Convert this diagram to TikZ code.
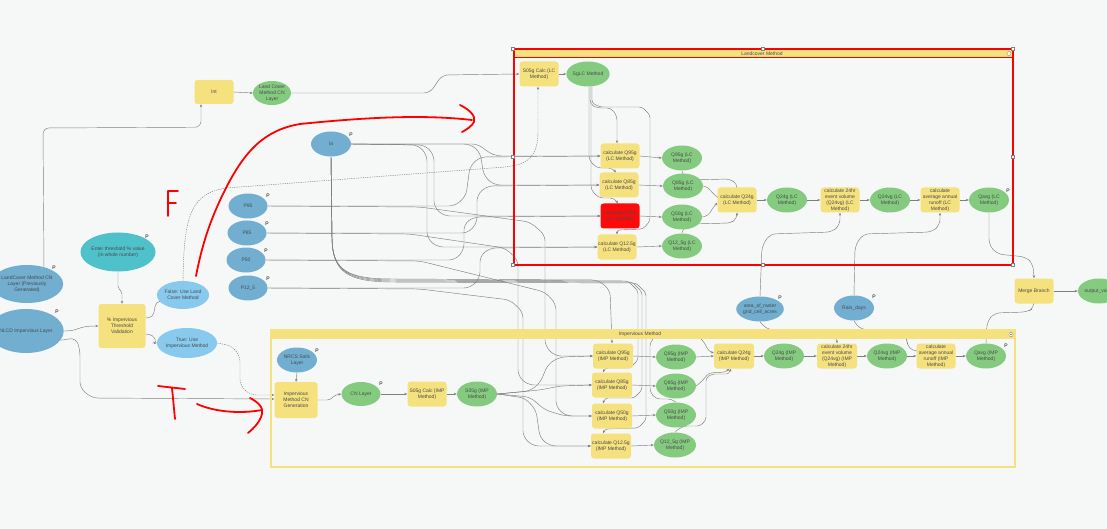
\documentclass[tikz,border=0pt]{standalone}
\usepackage{fontspec}
\setmainfont{Liberation Sans}
\usetikzlibrary{shapes.geometric,arrows.meta,calc}
\definecolor{bgc}{HTML}{F6F8F8}
\definecolor{ylw}{HTML}{F5E17D}
\definecolor{grn}{HTML}{84CB7F}
\definecolor{blu}{HTML}{71AED0}
\definecolor{tealc}{HTML}{4EC1CB}
\definecolor{lblu}{HTML}{87CAEE}
\definecolor{txt}{HTML}{4A4A4A}
\definecolor{wc}{HTML}{7E7E7E}
\definecolor{redbox}{HTML}{FF0A0A}
\pgfdeclarelayer{bg}
\pgfdeclarelayer{wires}
\pgfsetlayers{bg,wires,main}
\begin{document}
\begin{tikzpicture}[x=1pt,y=-1pt,
  every node/.style={font=\fontsize{5}{6}\selectfont, text=txt, inner sep=0pt, align=center},
  yb/.style={rectangle, rounded corners=3pt, fill=ylw, minimum width=39pt, minimum height=25pt},
  ge/.style={ellipse, fill=grn, minimum width=40pt, minimum height=25pt},
  be/.style={ellipse, fill=blu, minimum width=40pt, minimum height=25pt},
  pl/.style={font=\fontsize{5}{5}\selectfont, text=black},
  wire/.style={draw=wc, line width=0.45pt, rounded corners=6pt, -{Stealth[length=3pt,width=2.4pt]}},
  ann/.style={draw=red, line width=1.8pt, line cap=round, line join=round},
  hnd/.style={draw=gray, fill=white, line width=0.3pt}
]
\begin{pgfonlayer}{bg}
\fill[bgc] (0,0) rectangle (1107,529);
\end{pgfonlayer}
\useasboundingbox (0,0) rectangle (1107,529);

% ---------- groups ----------
\draw[red, line width=2.2pt] (514,49) rectangle (1013,265);
\fill[ylw] (515,50) rectangle (1012,57);
\draw[red, line width=0.9pt] (514,57) -- (1013,57);
\node (lctitle) at (762,53.5) {Landcover Method};
\draw[hnd] (1009,53.5) circle (2);
\foreach \x/\y in {513/49,763/49,1013/49,513/157,1013/157,513/265,763/265,1013/265}
  \draw[hnd] (\x-1.6,\y-1.6) rectangle (\x+1.6,\y+1.6);

\draw[ylw, line width=2.6pt] (271,330) rectangle (1015,467);
\fill[ylw] (271,330) rectangle (1015,339);
\node (imptitle) at (640,334.5) {Impervious Method};
\draw[hnd] (1011,334.5) circle (2.2);
\draw[gray, line width=0.4pt] (1010,334.5) -- (1012,334.5);

% ---------- left nodes ----------
\node[be, minimum width=56pt, minimum height=38pt] (lcprev) at (27,284) {LandCover Method CN\\Layer (Previously\\Generated)};
\node[pl] (lcprevP) at (54,268) {P};
\node[be, minimum width=62pt, minimum height=44pt] (nlcd) at (26,331) {NLCD Impervious Layer};
\node[pl] (nlcdP) at (57,312) {P};
\node[ellipse, fill=tealc, minimum width=57pt, minimum height=39pt] (thr) at (118,252) {Enter threshold \% value\\(in whole number)};
\node[pl] (thrP) at (147,237) {P};
\node[yb, minimum width=47pt, minimum height=44pt] (imp) at (122,326) {\% Impervious\\Threshold\\Validation};
\node[ellipse, fill=lblu, minimum width=45pt, minimum height=28pt] (fal) at (183,295) {False: Use Land\\Cover Method};
\node[ellipse, fill=lblu, minimum width=44pt, minimum height=30pt] (tru) at (187,343) {True: Use\\Impervious Method};
\node[yb, minimum height=24pt] (intb) at (214,92) {Int};
\node[ge, minimum width=38pt, minimum height=24pt] (lccn) at (272,93) {Land Cover\\Method CN\\Layer};
\node[be, minimum width=39pt] (p95) at (248,206) {P95};
\node[pl] (p95P) at (268,196) {P};
\node[be, minimum width=39pt] (p85) at (247,233) {P85};
\node[pl] (p85P) at (267,224) {P};
\node[be, minimum width=39pt] (p50) at (246,260) {P50};
\node[pl] (p50P) at (266,251) {P};
\node[be, minimum width=39pt] (p12) at (248,288) {P12\_5};
\node[pl] (p12P) at (268,279) {P};
\node[be] (ia) at (331,144) {Ia};
\node[pl] (iaP) at (351,135) {P};

% ---------- landcover nodes ----------
\node[yb] (s05lc) at (539,74) {S05g Calc (LC\\Method)};
\node[ge] (sglc) at (588,74) {SgLC Method};
\node[yb] (cq95l) at (620,156) {calculate Q95g\\(LC Method)};
\node[yb] (cq85l) at (619,185) {calculate Q85g\\(LC Method)};
\node[yb, fill=redbox] (cq50l) at (620,216) {calculate Q50g\\(LC Method)};
\node[yb] (cq12l) at (617,247) {calculate Q12.5g\\(LC Method)};
\node[ge] (q95l) at (682,158) {Q95g (LC\\Method)};
\node[ge] (q85l) at (683,186) {Q85g (LC\\Method)};
\node[ge] (q50l) at (682,217) {Q50g (LC\\Method)};
\node[ge] (q12l) at (682,246) {Q12\_5g (LC\\Method)};
\node[yb] (cq24l) at (737,200) {calculate Q24g\\(LC Method)};
\node[ge] (q24l) at (787,200) {Q24g (LC\\Method)};
\node[yb] (c24l) at (840,200) {calculate 24hr\\event volume\\(Q24vg) (LC\\Method)};
\node[ge] (q24vl) at (890,200) {Q24vg (LC\\Method)};
\node[yb] (cavl) at (940,200) {calculate\\average annual\\runoff (LC\\Method)};
\node[ge] (qavl) at (989,200) {Qavg (LC\\Method)};
\node[pl] (qavlP) at (1008,191) {P};

% ---------- middle nodes ----------
\node[be] (area) at (760,309) {area\_of\_raster\\grid\_cell\_acres};
\node[pl] (areaP) at (780,298) {P};
\node[be] (rain) at (854,308) {Rain\_days};
\node[pl] (rainP) at (874,297) {P};
\node[yb] (merge) at (1034,291) {Merge Branch};
\node[ge, minimum width=42pt] (outv) at (1099,291) {output\_value};

% ---------- impervious nodes ----------
\node[be] (nrcs) at (297,360) {NRCS Soils\\Layer};
\node[pl] (nrcsP) at (317,351) {P};
\node[yb, minimum width=43pt, minimum height=36pt] (impcn) at (296,400) {Impervious\\Method CN\\Generation};
\node[ge, minimum width=39pt, minimum height=24pt] (cnl) at (361,394) {CN Layer};
\node[pl] (cnlP) at (381,384) {P};
\node[yb] (s05ic) at (427,394) {S05g Calc (IMP\\Method)};
\node[ge] (s05i) at (477,394) {S05g (IMP\\Method)};
\node[yb, minimum width=40pt] (cq95i) at (613,356) {calculate Q95g\\(IMP Method)};
\node[yb, minimum width=40pt] (cq85i) at (612,385) {calculate Q85g\\(IMP Method)};
\node[yb, minimum width=40pt] (cq50i) at (612,416) {calculate Q50g\\(IMP Method)};
\node[yb, minimum width=40pt] (cq12i) at (611,446) {calculate Q12.5g\\(IMP Method)};
\node[ge] (q95i) at (676,357) {Q95g (IMP\\Method)};
\node[ge] (q85i) at (676,386) {Q85g (IMP\\Method)};
\node[ge] (q50i) at (676,415) {Q50g (IMP\\Method)};
\node[ge] (q12i) at (675,445) {Q12\_5g (IMP\\Method)};
\node[yb, minimum width=40pt] (cq24i) at (734,356) {calculate Q24g\\(IMP Method)};
\node[ge] (q24i) at (784,356) {Q24g (IMP\\Method)};
\node[yb, minimum width=40pt] (c24i) at (837,356) {calculate 24hr\\event volume\\(Q24vg) (IMP\\Method)};
\node[ge] (q24vi) at (887,356) {Q24vg (IMP\\Method)};
\node[yb] (cavi) at (936,356) {calculate\\average annual\\runoff (IMP\\Method)};
\node[ge] (qavi) at (986,356) {Qavg (IMP\\Method)};
\node[pl] (qaviP) at (1006,346) {P};

% ---------- wires ----------
\begin{pgfonlayer}{wires}
\draw[wire] (lcprev.45) -- (43,128) -- ($(intb.south)+(-13,23)$) -- ($(intb.south)+(-13,0)$);
\draw[wire] (intb.east) -- (lccn.west);
\draw[wire] (lccn.east) -- (430,93) -- (442,75) -- (s05lc.west);
\draw[wire] (nlcd.east) .. controls (80,331) and (76,326) .. (imp.west);
\draw[wire] (nlcd.-15) -- (76,338) -- (80,350) -- (80,388) -- (92,398) -- ($(impcn.west)+(0,-1)$);
\draw[wire, rounded corners=2pt] (thr.south) -- (118,288) -- (122,292) -- (imp.north);
\draw[wire, rounded corners=4pt] ($(imp.east)+(0,-8)$) -- (153,317) -- (156,302) -- (fal.195);
\draw[wire, rounded corners=4pt] ($(imp.east)+(0,8)$) -- (153,335) -- (157,343) -- (tru.west);
\draw[wire, dash pattern=on 1.3pt off 1pt] (fal.north) .. controls (184,215) and (190,190) .. (240,187) -- (505,167) .. controls (533,163) and (538,150) .. (538,125) -- ($(s05lc.south)+(-1,0)$);
\draw[wire, dash pattern=on 1.3pt off 1pt] (tru.east) -- (232,346) -- (240,356) -- (240,385) -- (250,395) -- ($(impcn.west)+(0,-5)$);

% landcover internals
\draw[wire] (s05lc.east) -- (sglc.west);
\draw[wire, rounded corners=4pt] ($(sglc.south)+(2,0)$) -- (590,104) -- (597,108) -- (611,108) -- (617,116) -- ($(cq95l.north)+(-3,0)$);
\draw[wire, rounded corners=4pt] ($(sglc.south)+(1,0)$) -- (589,160) -- (597,168) -- (612,168) -- ($(cq85l.north)+(-3,0)$);
\draw[wire, rounded corners=4pt] ($(sglc.south)+(3,0)$) -- (591,190) -- (599,198) -- (614,198) -- ($(cq50l.north)+(-2,0)$);
\draw[wire, rounded corners=3pt] ($(sglc.south)+(4,0)$) -- (592,103) -- (600,107) -- (642,107) -- (650,115) -- (650,221) -- (643,229) -- (617,230) -- (cq12l.north);

\draw[wire] (ia.east) -- (478,144) -- (488,152) -- (496,156) -- (cq95l.west);
\draw[wire] (ia.east) -- (470,144) -- (480,152) -- (484,176) -- (494,185) -- (cq85l.west);
\draw[wire] (ia.east) -- (425,145) -- (434,155) -- (434,207) -- (444,216) -- (cq50l.west);
\draw[wire] (ia.east) -- (418,145) -- (427,155) -- (427,238) -- (437,247) -- (cq12l.west);
\draw[wire] (p95.east) -- (455,206) -- (466,196) -- (470,166) -- (480,157) -- (cq95l.west);
\draw[wire] (p85.east) -- (468,233) -- (477,223) -- (477,195) -- (487,186) -- (cq85l.west);
\draw[wire] (p50.east) -- (455,260) -- (464,250) -- (464,224) -- (474,217) -- (cq50l.west);
\draw[wire] (p12.east) -- (470,288) -- (480,278) -- (480,256) -- (490,248) -- (cq12l.west);

\draw[wire] (cq95l.east) -- (q95l.west);
\draw[wire] (cq85l.east) -- (q85l.west);
\draw[wire] (cq50l.east) -- (q50l.west);
\draw[wire] (cq12l.east) -- (q12l.west);
\draw[wire, rounded corners=4pt] (q95l.south) -- (683,176) -- (690,180) -- (730,179) -- (737,184) -- (cq24l.north);
\draw[wire, rounded corners=4pt] (q85l.east) -- (708,187) -- (714,195) -- ($(cq24l.west)+(0,-3)$);
\draw[wire, rounded corners=4pt] (q50l.east) -- (708,216) -- (714,206) -- ($(cq24l.west)+(0,3)$);
\draw[wire, rounded corners=4pt] (q12l.north) -- (683,228) -- (690,224) -- (731,223) -- (737,218) -- (cq24l.south);
\draw[wire] (cq24l.east) -- (q24l.west);
\draw[wire] (q24l.east) -- (c24l.west);
\draw[wire] (c24l.east) -- (q24vl.west);
\draw[wire] (q24vl.east) -- (cavl.west);
\draw[wire] (cavl.east) -- (qavl.west);
\draw[wire] (area.north) -- (762,246) -- (770,234) -- (832,232) -- (840,225) -- (c24l.south);
\draw[wire] (rain.north) -- (855,246) -- (863,234) -- (932,232) -- (940,225) -- (cavl.south);
\draw[wire] (qavl.south) -- (989,245) -- (997,254) -- (1026,257) -- (1033,264) -- (merge.north);
\draw[wire] (qavi.north) -- (987,322) -- (994,313) -- (1027,312) -- (1034,308) -- (merge.south);
\draw[wire] (merge.east) -- (outv.west);

% impervious internals
\draw[wire] (nrcs.south) -- (impcn.north);
\draw[wire, rounded corners=3pt] (impcn.east) -- (330,400) -- (335,395) -- (cnl.west);
\draw[wire] (cnl.east) -- (s05ic.west);
\draw[wire] (s05ic.east) -- (s05i.west);

\draw[wire] (ia.south) -- (332,240) .. controls (334,270) and (350,278) .. (390,279) -- (598,280) -- (610,290) -- ($(cq95i.north)+(-1,0)$);
\draw[wire, rounded corners=3pt] (ia.south) -- (332,240) .. controls (334,271) and (350,279) .. (390,280) -- (628,281) -- (638,291) -- (638,360) -- (630,368) -- (605,368) -- ($(cq85i.north)+(-9,0)$);
\draw[wire, rounded corners=3pt] (ia.south) -- (332,240) .. controls (334,272) and (350,280) .. (390,281) -- (632,282) -- (642,292) -- (642,390) -- (634,398) -- (605,398) -- ($(cq50i.north)+(-9,0)$);
\draw[wire, rounded corners=3pt] (ia.south) -- (332,240) .. controls (334,273) and (350,281) .. (390,282) -- (636,283) -- (646,293) -- (646,420) -- (638,428) -- (605,429) -- ($(cq12i.north)+(-8,0)$);

\draw[wire] (p95.east) -- (420,207) -- (530,222) -- (545,235) -- (545,346) -- (555,356) -- (cq95i.west);
\draw[wire] (p85.east) -- (410,234) -- (505,248) -- (518,260) -- (518,376) -- (528,385) -- (cq85i.west);
\draw[wire] (p50.east) -- (420,261) -- (545,292) -- (556,304) -- (556,407) -- (566,416) -- (cq50i.west);
\draw[wire] (p12.east) -- (420,289) -- (510,300) -- (523,312) -- (523,437) -- (533,446) -- (cq12i.west);

\draw[wire] (s05i.east) -- (530,391) -- (540,383) -- (548,364) -- (560,357) -- (cq95i.west);
\draw[wire] (s05i.east) -- (540,390) -- (560,386) -- (cq85i.west);
\draw[wire] (s05i.east) -- (530,397) -- (545,410) -- (565,416) -- (cq50i.west);
\draw[wire] (s05i.east) -- (525,398) -- (536,410) -- (540,438) -- (550,446) -- (cq12i.west);

\draw[wire] (cq95i.east) -- (q95i.west);
\draw[wire] (cq85i.east) -- (q85i.west);
\draw[wire] (cq50i.east) -- (q50i.west);
\draw[wire] (cq12i.east) -- (q12i.west);
\draw[wire] (q95i.east) -- (cq24i.west);
\draw[wire, rounded corners=3pt] (q85i.east) -- (702,381) -- (709,373) -- (726,372) -- ($(cq24i.south)+(-5,0)$);
\draw[wire, rounded corners=4pt] (q50i.north) -- (672,399) -- (656,399) -- (650,392) -- (650,342) -- (656,336) -- (698,336) -- (705,343) -- (708,351) -- ($(cq24i.west)+(0,-3)$);
\draw[wire, rounded corners=3pt] (q12i.north) -- (677,430) -- (684,426) -- (700,426) -- (706,420) -- (706,378) -- (712,374) -- (729,374) -- ($(cq24i.south)+(-3,0)$);
\draw[wire] (cq24i.east) -- (q24i.west);
\draw[wire] (q24i.east) -- (c24i.west);
\draw[wire] (c24i.east) -- (q24vi.west);
\draw[wire] (q24vi.east) -- (cavi.west);
\draw[wire] (cavi.east) -- (qavi.west);
\draw[wire, rounded corners=4pt] (area.south) -- (762,325) -- (770,330) -- (830,331) -- (837,337) -- (c24i.north);
\draw[wire, rounded corners=4pt] (rain.south) -- (856,325) -- (864,330) -- (900,331) -- (907,338) -- (907,345) -- (913,351) -- ($(cavi.west)+(0,-5)$);
\end{pgfonlayer}

% ---------- red hand annotations ----------
\draw[ann] (178,191) -- (168,191) -- (168,216);
\draw[ann] (168,203) -- (176,203);
\draw[ann] (196,276) .. controls (202,245) and (210,220) .. (225,190) .. controls (245,150) and (265,130) .. (300,124) .. controls (360,118) and (420,114) .. (472,120);
\draw[ann] (460,105) .. controls (470,110) and (476,116) .. (474,122) .. controls (472,126) and (466,130) .. (462,132);
\draw[ann] (158,386) -- (185,389);
\draw[ann] (172,388) -- (175,419);
\draw[ann] (197,404) .. controls (215,412) and (240,414) .. (262,410);
\draw[ann] (250,398) .. controls (258,402) and (264,408) .. (262,414) .. controls (260,422) and (254,428) .. (248,433);
\end{tikzpicture}
\end{document}
